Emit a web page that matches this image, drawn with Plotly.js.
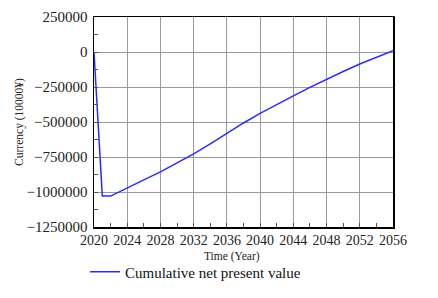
<!DOCTYPE html>
<html>
<head>
<meta charset="utf-8">
<script src="https://cdn.plot.ly/plotly-3.0.1.min.js"></script>
<style>html,body{margin:0;padding:0;background:#fff;}#chart{width:438px;height:298px;}</style>
</head>
<body>
<div id="chart"></div>
<script>
var years = [2020, 2021, 2022, 2024, 2026, 2028, 2030, 2032, 2034, 2036, 2038, 2040, 2042, 2044, 2046, 2048, 2050, 2052, 2054, 2056];
var npv = [0, -1029000, -1029000, -968000, -913000, -856000, -794000, -728000, -656000, -581000, -507000, -438000, -374000, -313000, -253000, -194000, -139000, -86000, -38000, 9000];
var seriesName = 'Cumulative net present value';
var xTitle = 'Time (Year)';
var yTitle = 'Currency (10000¥)';

var serif = 'Liberation Serif, Times New Roman, serif';
var trace = {
  x: years, y: npv, type: 'scatter', mode: 'lines', name: seriesName,
  line: {color: '#2a2aff', width: 1.5}
};
var axisCommon = {
  showline: true, linecolor: '#000', linewidth: 1.5, mirror: true,
  showgrid: true, gridcolor: '#9a9a9a', gridwidth: 1,
  zeroline: false, ticks: 'inside', ticklen: 4, tickcolor: '#555',
  tickformat: 'd', exponentformat: 'none', automargin: false,
  tickfont: {family: serif, size: 14, color: '#222'}
};
var layout = {
  width: 438, height: 298,
  margin: {l: 94, r: 45, t: 17, b: 71},
  paper_bgcolor: '#fff', plot_bgcolor: '#fff',
  showlegend: true,
  legend: {
    orientation: 'h', xref: 'container', yref: 'container',
    x: 85/438, xanchor: 'left', y: 1 - 272/298, yanchor: 'middle',
    font: {family: serif, size: 15, color: '#111'}
  },
  xaxis: Object.assign({}, axisCommon, {
    range: [2020, 2056], dtick: 4, tick0: 2020,
    minor: {dtick: 2, ticks: 'inside', ticklen: 4, tickcolor: '#555', showgrid: false}
  }),
  yaxis: Object.assign({}, axisCommon, {
    range: [-1250000, 250000], dtick: 250000, tick0: 0,
    tickfont: {family: serif, size: 15, color: '#222'},
    ticklabelstandoff: 2,
    minor: {dtick: 125000, ticks: 'inside', ticklen: 4, tickcolor: '#555', showgrid: false},
    title: {text: yTitle, font: {family: serif, size: 11.5, color: '#222'}, standoff: 0}
  }),
  annotations: [{
    text: xTitle, xref: 'paper', yref: 'paper', x: 0.46, y: -29/210,
    xanchor: 'center', yanchor: 'middle', showarrow: false,
    font: {family: serif, size: 11.5, color: '#222'}
  }]
};
Plotly.newPlot('chart', [trace], layout, {staticPlot: true, displayModeBar: false});
</script>
</body>
</html>
